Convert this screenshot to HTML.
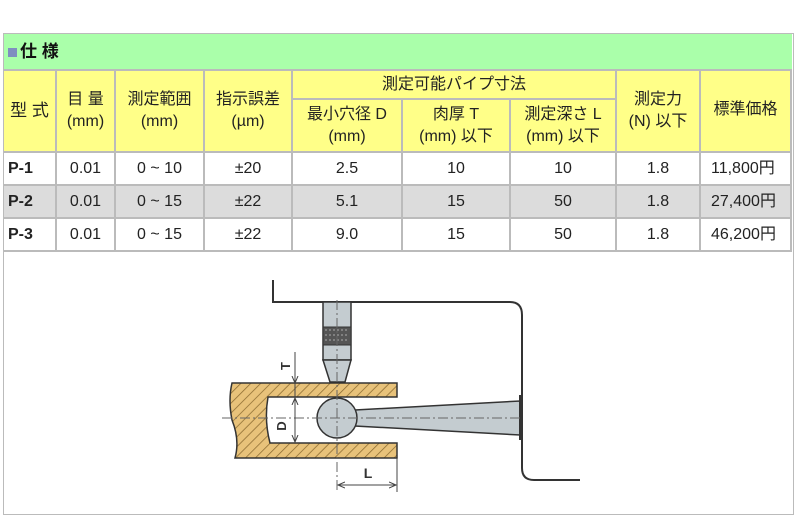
<!DOCTYPE html>
<html><head><meta charset="utf-8"><style>
body{margin:0;background:#fff;width:795px;height:500px;overflow:hidden;font-family:"Liberation Sans","Noto Sans CJK JP",sans-serif;}
.box{position:absolute;left:3px;top:33px;width:789px;height:480px;border:1px solid #bbb;}
.c{position:absolute;display:flex;align-items:center;justify-content:center;text-align:center;font-size:16px;color:#222;box-sizing:border-box;border-right:2px solid #bbb;border-bottom:2px solid #bbb;line-height:22px;}
.y{background:#ffff88;}
.g{background:#dcdcdc;}
</style></head><body>
<div class="box"></div>
<div style="position:absolute;left:4px;top:34px;width:788px;height:37px;background:#aaffaa;border-bottom:2px solid #bbb;box-sizing:border-box;font-weight:bold;font-size:17px;line-height:35px;color:#111;"><span style="display:inline-block;width:9px;height:9px;background:#7f8fc0;margin:0 3px 0 4px;"></span>仕 様</div>
<div id="t"></div>
<script>
var X=[4,57,116,205,293,403,511,617,701,792];
var h='';
function c(x1,x2,y1,y2,cls,txt,st){h+='<div class="c '+cls+'" style="left:'+x1+'px;top:'+y1+'px;width:'+(x2-x1)+'px;height:'+(y2-y1)+'px;'+(st||'')+'">'+txt+'</div>';}
c(X[0],X[1],71,153,'y','型 式','font-size:17px;');
c(X[1],X[2],71,153,'y','目 量<br>(mm)');
c(X[2],X[3],71,153,'y','測定範囲<br>(mm)');
c(X[3],X[4],71,153,'y','指示誤差<br>(µm)');
c(X[4],X[7],71,100,'y','測定可能パイプ寸法');
c(X[4],X[5],100,153,'y','最小穴径 D<br>(mm)');
c(X[5],X[6],100,153,'y','肉厚 T<br>(mm) 以下');
c(X[6],X[7],100,153,'y','測定深さ L<br>(mm) 以下');
c(X[7],X[8],71,153,'y','測定力<br>(N) 以下');
c(X[8],X[9],71,153,'y','標準価格','align-items:flex-start;padding-top:28px;');
var R=[['P-1','0.01','0 ~ 10','±20','2.5','10','10','1.8','11,800円'],['P-2','0.01','0 ~ 15','±22','5.1','15','50','1.8','27,400円'],['P-3','0.01','0 ~ 15','±22','9.0','15','50','1.8','46,200円']];
for(var r=0;r<3;r++){var y1=153+33*r;for(var i=0;i<9;i++){c(X[i],X[i+1],y1,y1+33,r==1?'g':'',R[r][i],i==0?'justify-content:flex-start;padding-left:4px;font-weight:bold;':(i==8?'justify-content:flex-start;padding-left:10px;':''));}}
document.getElementById('t').innerHTML=h;
</script>
<svg style="position:absolute;left:0;top:0" width="795" height="500">
<defs><pattern id="hp" width="7" height="7" patternUnits="userSpaceOnUse" patternTransform="rotate(45)"><rect width="7" height="7" fill="#e8c27a"/><line x1="0" y1="0" x2="0" y2="7" stroke="#8a6a30" stroke-width="1.5"/></pattern>
<marker id="a" markerWidth="8" markerHeight="8" refX="7" refY="4" orient="auto-start-reverse"><path d="M0,1 L7,4 L0,7" fill="none" stroke="#444" stroke-width="1"/></marker></defs>
<path d="M273,280 V302 H510 Q522,302 522,315 V468 Q522,480 534,480 H580" fill="none" stroke="#333" stroke-width="2"/>
<rect x="323" y="302" width="28" height="58" fill="#c4ccd0" stroke="#333" stroke-width="1.5"/>
<rect x="323" y="327" width="28" height="18" fill="#555" stroke="#333"/>
<path d="M325,330 h24 M325,335 h24 M325,340 h24" stroke="#aaa" stroke-width="1" stroke-dasharray="2,2"/>
<path d="M323,360 L330,382 H345 L351,360 Z" fill="#c4ccd0" stroke="#333" stroke-width="1.5"/>
<path d="M232,383 H397 V397 H268 Q264,420 270,443 H397 V458 H235 Q240,440 232,420 Q228,400 232,383 Z" fill="url(#hp)" stroke="#333" stroke-width="1.5"/>
<path d="M355,410 L520,401 V435 L355,426 Z" fill="#c4ccd0" stroke="#333" stroke-width="1.5"/>
<line x1="520" y1="395" x2="520" y2="440" stroke="#333" stroke-width="2"/>
<circle cx="337" cy="418" r="20" fill="#c4ccd0" stroke="#333" stroke-width="1.5"/>
<line x1="222" y1="418" x2="520" y2="418" stroke="#666" stroke-width="1" stroke-dasharray="10,3,2,3"/>
<line x1="337" y1="300" x2="337" y2="490" stroke="#666" stroke-width="1" stroke-dasharray="10,3,2,3"/>
<line x1="295" y1="352" x2="295" y2="383" stroke="#444" marker-end="url(#a)"/>
<line x1="295" y1="383" x2="295" y2="397" stroke="#444"/>
<line x1="295" y1="398" x2="295" y2="442" stroke="#444" marker-start="url(#a)" marker-end="url(#a)"/>
<line x1="397" y1="458" x2="397" y2="492" stroke="#444"/>
<line x1="338" y1="485" x2="396" y2="485" stroke="#444" marker-start="url(#a)" marker-end="url(#a)"/>
<text x="290" y="366" font-size="13" font-weight="bold" fill="#333" transform="rotate(-90 290 366)" text-anchor="middle" font-family="Liberation Sans">T</text>
<text x="286" y="426" font-size="13" font-weight="bold" fill="#333" transform="rotate(-90 286 426)" text-anchor="middle" font-family="Liberation Sans">D</text>
<text x="368" y="478" font-size="14" font-weight="bold" fill="#333" text-anchor="middle" font-family="Liberation Sans">L</text>
</svg>
</body></html>
